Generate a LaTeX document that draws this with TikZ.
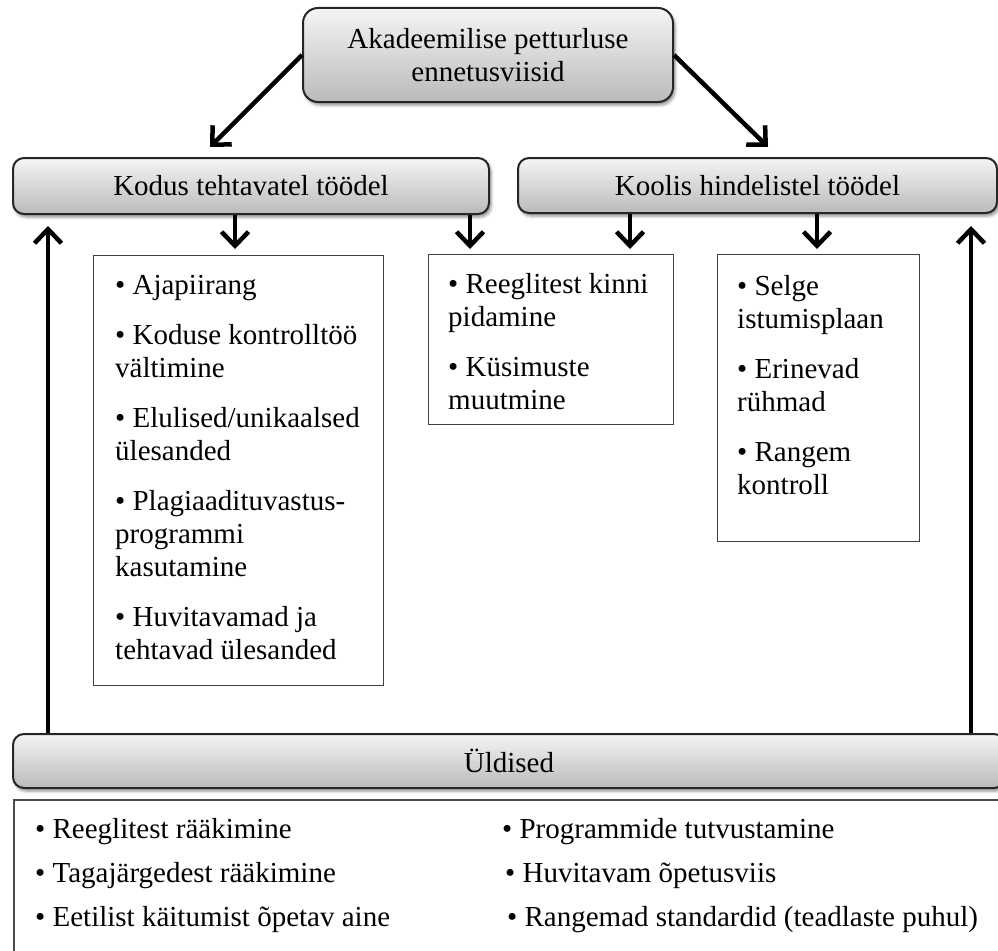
\documentclass[tikz,border=0pt]{standalone}
\usepackage{fontspec}
\setmainfont{Liberation Serif}
\usetikzlibrary{arrows.meta,shadows.blur}
\tikzset{
  headbox/.style={draw=black!85, line width=2pt, rounded corners=11pt, top color=black!4, bottom color=black!27,
    blur shadow={shadow xshift=2pt, shadow yshift=-3pt, shadow blur radius=3pt, shadow opacity=45},
    font=\fontsize{29}{33}\selectfont, inner sep=0pt},
  listbox/.style={draw=black!75, line width=1.3pt, fill=white, anchor=north west, inner sep=0pt},
  listtxt/.style={align=left, anchor=north west, inner sep=0pt, font=\fontsize{29}{33}\selectfont},
  gentxt/.style={anchor=base west, inner sep=0pt, font=\fontsize{29}{33}\selectfont},
  arr/.style={line width=4.5pt, -{Straight Barb[length=14pt,width=27pt]}}
}
\begin{document}
\begin{tikzpicture}[x=1pt, y=-1pt]
\path[use as bounding box, clip] (0,0) rectangle (998,950);
% heading boxes
\node[headbox, minimum width=370pt, minimum height=94pt, align=center, rounded corners=15pt] (top) at (488,55) {Akadeemilise petturluse\\ennetusviisid};
\node[headbox, minimum width=476pt, minimum height=56pt] (kodus) at (251,186) {Kodus tehtavatel töödel};
\node[headbox, minimum width=479pt, minimum height=55pt] (koolis) at (757.5,185.5) {Koolis hindelistel töödel};
\node[headbox, minimum width=992pt, minimum height=54pt] (uld) at (509,761) {Üldised};
% list boxes
\node[listbox, minimum width=290pt, minimum height=430pt] (homebox) at (93,255) {};
\node[listbox, minimum width=245pt, minimum height=170pt] (rulebox) at (428,254) {};
\node[listbox, minimum width=202pt, minimum height=287pt] (seatbox) at (717,254) {};
\node[listbox, draw=black!70, line width=1.5pt, minimum width=1000pt, minimum height=170pt] (genbox) at (13,799) {};
\node[listtxt] (hometxt) at (115,275) {• Ajapiirang\\[17pt]• Koduse kontrolltöö\\vältimine\\[17pt]• Elulised/unikaalsed\\ülesanded\\[17pt]• Plagiaadituvastus-\\programmi\\kasutamine\\[17pt]• Huvitavamad ja\\tehtavad ülesanded};
\node[listtxt] (ruletxt) at (448,273.5) {• Reeglitest kinni\\pidamine\\[17pt]• Küsimuste\\muutmine};
\node[listtxt] (seattxt) at (737,275) {• Selge\\istumisplaan\\[17pt]• Erinevad\\rühmad\\[17pt]• Rangem\\kontroll};
\foreach \x/\y/\txt [count=\i] in {35/838/Reeglitest rääkimine, 35/882/Tagajärgedest rääkimine, 35/926/Eetilist käitumist õpetav aine, 502/838/Programmide tutvustamine, 505/882/Huvitavam õpetusviis, 507/926/Rangemad standardid (teadlaste puhul)}
  \node[gentxt] (gen\i) at (\x,\y) {• \txt};
% arrows
\coordinate (ltip) at (210,147);
\coordinate (rtip) at (768,147);
\draw[arr] (top.west) -- (ltip);
\draw[arr] (top.east) -- (rtip);
\foreach \n/\x in {d1/235, d2/470, d3/630, d4/817} \coordinate (\n) at (\x,249);
\draw[arr] (kodus.south -| d1) -- (d1);
\draw[arr] (kodus.south -| d2) -- (d2);
\draw[arr] (koolis.south -| d3) -- (d3);
\draw[arr] (koolis.south -| d4) -- (d4);
\coordinate (u1) at (48,226);
\coordinate (u2) at (971,226);
\draw[arr] (uld.north -| u1) -- (u1);
\draw[arr] (uld.north -| u2) -- (u2);
\end{tikzpicture}
\end{document}
